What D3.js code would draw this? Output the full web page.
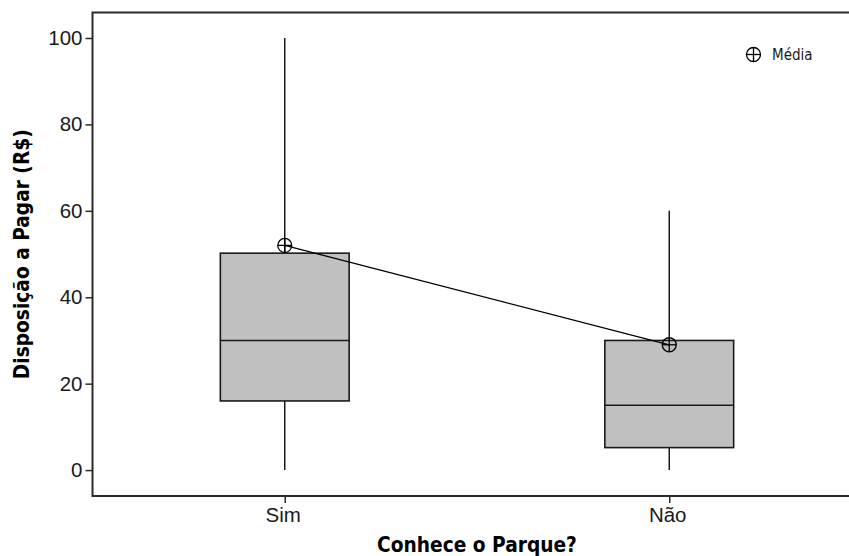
<!DOCTYPE html>
<html><head><meta charset="utf-8">
<script src="https://cdn.jsdelivr.net/npm/d3@7"></script>
<style>
html,body{margin:0;padding:0;background:#fff;}
svg{display:block;font-family:"DejaVu Sans Condensed","DejaVu Sans",sans-serif;font-stretch:condensed;}
</style></head>
<body><svg id="c" width="849" height="556"></svg>
<script>
const categories = ["Sim", "Não"];
const whiskerLow = [0, 0];
const q1 = [16, 5.2];
const median = [30, 15];
const q3 = [50.2, 30];
const whiskerHigh = [100, 60];
const means = [52, 29];
const yTicks = [0, 20, 40, 60, 80, 100];
const yTitle = "Disposição a Pagar (R$)";
const xTitle = "Conhece o Parque?";
const legendLabel = "Média";

(function () {
const svg = d3.select("#c");
const W = 849;
const mLeft = 92.5, mTop = 12.5, mBottom = 496, mRight = 861.5;

const x = d3.scalePoint().domain(categories).range([mLeft, mRight]).padding(0.5);
const y = d3.scaleLinear().domain([-6, 105.9]).range([mBottom, mTop]);
const boxW = x.step() * 0.335;

const data = categories.map((c, i) => ({c, lo: whiskerLow[i], q1: q1[i], med: median[i], q3: q3[i], hi: whiskerHigh[i], mean: means[i]}));

const g = svg.append("g");
data.forEach(d => {
  g.append("line").attr("x1", x(d.c)).attr("x2", x(d.c)).attr("y1", y(d.q3)).attr("y2", y(d.hi))
    .attr("stroke", "#1a1a1a").attr("stroke-width", 1.5);
  g.append("line").attr("x1", x(d.c)).attr("x2", x(d.c)).attr("y1", y(d.q1)).attr("y2", y(d.lo))
    .attr("stroke", "#1a1a1a").attr("stroke-width", 1.5);
  g.append("rect").attr("x", x(d.c) - boxW / 2).attr("width", boxW)
    .attr("y", y(d.q3)).attr("height", y(d.q1) - y(d.q3))
    .attr("fill", "#c0c0c0").attr("stroke", "#1a1a1a").attr("stroke-width", 1.6);
  g.append("line").attr("x1", x(d.c) - boxW / 2).attr("x2", x(d.c) + boxW / 2)
    .attr("y1", y(d.med)).attr("y2", y(d.med)).attr("stroke", "#1a1a1a").attr("stroke-width", 1.6);
});

g.append("path").datum(data)
  .attr("d", d3.line().x(d => x(d.c)).y(d => y(d.mean)))
  .attr("fill", "none").attr("stroke", "#000").attr("stroke-width", 1.3);

function meanSymbol(sel, cx, cy) {
  const r = 7;
  sel.append("circle").attr("cx", cx).attr("cy", cy).attr("r", r)
    .attr("fill", "none").attr("stroke", "#000").attr("stroke-width", 1.3);
  sel.append("line").attr("x1", cx - r).attr("x2", cx + r).attr("y1", cy).attr("y2", cy)
    .attr("stroke", "#000").attr("stroke-width", 1.3);
  sel.append("line").attr("x1", cx).attr("x2", cx).attr("y1", cy - r).attr("y2", cy + r)
    .attr("stroke", "#000").attr("stroke-width", 1.3);
}
data.forEach(d => meanSymbol(g, x(d.c), y(d.mean)));

svg.append("path")
  .attr("d", `M${W},${mTop}H${mLeft}V${mBottom}H${W}`)
  .attr("fill", "none").attr("stroke", "#2b2b2b").attr("stroke-width", 2);

const yAxis = svg.append("g").attr("transform", `translate(${mLeft},0)`)
  .call(d3.axisLeft(y).tickValues(yTicks).tickSize(7).tickPadding(3).tickFormat(d3.format("d")));
yAxis.select(".domain").remove();
yAxis.selectAll("line").attr("stroke", "#2b2b2b").attr("stroke-width", 1.5);
yAxis.selectAll("text").attr("font-size", 20.5).attr("fill", "#1a1a1a").attr("font-family", null);

const xAxis = svg.append("g").attr("transform", `translate(0,${mBottom})`)
  .call(d3.axisBottom(x).tickSize(7).tickPadding(4));
xAxis.select(".domain").remove();
xAxis.selectAll("line").attr("stroke", "#2b2b2b").attr("stroke-width", 1.5);
xAxis.selectAll("text").attr("font-size", 20.5).attr("fill", "#1a1a1a").attr("font-family", null)
  .attr("dx", "-0.1em");

svg.append("text").attr("x", (mLeft + mRight) / 2).attr("y", 551.5).attr("text-anchor", "middle")
  .attr("font-size", 20.7).attr("font-weight", "bold").attr("fill", "#000").text(xTitle);
svg.append("text").attr("transform", `translate(29,${(mTop + mBottom) / 2}) rotate(-90)`).attr("text-anchor", "middle")
  .attr("font-size", 20.7).attr("font-weight", "bold").attr("fill", "#000").text(yTitle);

const lg = svg.append("g");
meanSymbol(lg, 753.5, 54.5);
lg.append("text").attr("x", 772).attr("y", 60).attr("font-size", 15).attr("fill", "#1a1a1a").text(legendLabel);
})();
</script></body></html>
